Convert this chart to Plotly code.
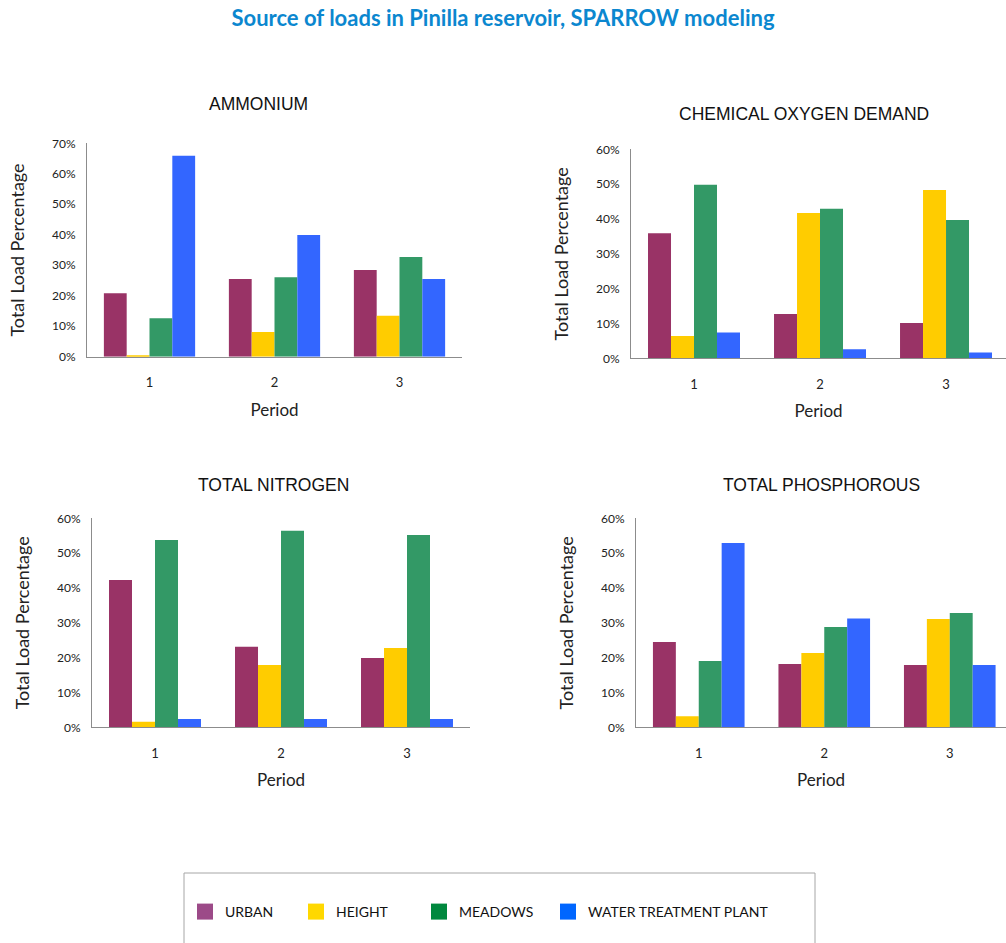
import plotly.graph_objects as go

W, H = 1006, 943

periods = ["1", "2", "3"]
series = ["URBAN", "HEIGHT", "MEADOWS", "WATER TREATMENT PLANT"]
bar_colors = ["#993366", "#FFCC00", "#339966", "#3366FF"]
legend_colors = ["#9C4A88", "#FFD800", "#00883E", "#0066FF"]

ammonium_urban = [20.8, 25.5, 28.4]
ammonium_height = [0.5, 8.1, 13.4]
ammonium_meadows = [12.6, 26.1, 32.7]
ammonium_wtp = [65.9, 39.9, 25.5]

cod_urban = [35.9, 12.7, 10.1]
cod_height = [6.4, 41.7, 48.3]
cod_meadows = [49.8, 42.9, 39.7]
cod_wtp = [7.4, 2.6, 1.7]

tn_urban = [42.3, 23.1, 19.9]
tn_height = [1.6, 17.9, 22.8]
tn_meadows = [53.8, 56.4, 55.2]
tn_wtp = [2.4, 2.4, 2.4]

tp_urban = [24.5, 18.2, 17.9]
tp_height = [3.2, 21.3, 31.1]
tp_meadows = [19.0, 28.8, 32.8]
tp_wtp = [52.9, 31.2, 17.9]

panel_titles = ["AMMONIUM", "CHEMICAL OXYGEN DEMAND", "TOTAL NITROGEN", "TOTAL PHOSPHOROUS"]
panel_data = [
    [ammonium_urban, ammonium_height, ammonium_meadows, ammonium_wtp],
    [cod_urban, cod_height, cod_meadows, cod_wtp],
    [tn_urban, tn_height, tn_meadows, tn_wtp],
    [tp_urban, tp_height, tp_meadows, tp_wtp],
]
y_max = [70, 60, 60, 60]

# layout in pixels: (x0, x1, ytop, ybottom, xrange_end)
panel_px = [
    (87, 462, 143.3, 356.7, 2.5),
    (631, 1006, 149.3, 358.3, 2.476),
    (92, 470, 518.3, 727.3, 2.5),
    (636, 1006, 518.3, 727.3, 2.448),
]
title_px = [(258, 104), (804, 114), (273, 485), (821, 485)]

FONT = "Lato, Open Sans, sans-serif"
TFONT = "Liberation Sans Narrow, Liberation Sans, Arial, sans-serif"

fig = go.Figure()

for p, vals in enumerate(panel_data):
    xa = "x" if p == 0 else f"x{p+1}"
    ya = "y" if p == 0 else f"y{p+1}"
    for s, name in enumerate(series):
        fig.add_trace(go.Bar(
            x=periods, y=vals[s], name=name,
            marker=dict(color=bar_colors[s], line=dict(width=0)),
            xaxis=xa, yaxis=ya, showlegend=False,
        ))

legend_widths = [66, 78, 84, 200]
for s, name in enumerate(series):
    fig.add_trace(go.Scatter(
        x=[None], y=[None], mode="markers", name=name,
        marker=dict(symbol="square", size=16, color=legend_colors[s]),
        showlegend=True, legendwidth=legend_widths[s],
    ))

layout = dict(
    width=W, height=H, autosize=False,
    margin=dict(l=0, r=0, t=0, b=0, pad=0, autoexpand=False),
    paper_bgcolor="white", plot_bgcolor="white",
    barmode="group", bargap=0.27, bargroupgap=0,
    font=dict(family=FONT, color="#222222"),
    title=dict(
        text="<b>Source of loads in Pinilla reservoir, SPARROW modeling</b>",
        x=503 / W, xanchor="center", y=1 - 18 / H, yanchor="middle",
        xref="paper", yref="container", automargin=False,
        font=dict(family=FONT, size=22, color="#0B87CF"),
    ),
    legend=dict(
        orientation="h", x=185 / W, xanchor="left", y=1 - 912 / H, yanchor="middle",
        font=dict(family=FONT, size=14, color="#111111"),
        bgcolor="rgba(0,0,0,0)", borderwidth=0,
    ),
    shapes=[dict(
        type="rect", xref="paper", yref="paper",
        x0=184 / W, x1=815 / W, y0=1 - 873 / H, y1=-0.02,
        line=dict(color="#A6A6A6", width=1), fillcolor="rgba(0,0,0,0)",
    )],
    annotations=[],
)

for p in range(4):
    x0, x1, yt, yb, xr = panel_px[p]
    sx = "" if p == 0 else str(p + 1)
    layout[f"xaxis{sx}"] = dict(
        domain=[x0 / W, x1 / W], anchor=f"y{sx}", automargin=False,
        type="category", range=[-0.5, xr],
        showline=True, linecolor="#8C8C8C", linewidth=1,
        showgrid=False, zeroline=False, ticks="",
        tickfont=dict(family=FONT, size=13, color="#222222"),
        ticklabelstandoff=14,
        title=dict(text="Period", font=dict(family=FONT, size=17, color="#222222"), standoff=14),
    )
    layout[f"yaxis{sx}"] = dict(
        domain=[1 - yb / H, 1 - yt / H], anchor=f"x{sx}", automargin=False,
        range=[0, y_max[p]], dtick=10, ticksuffix="%",
        showline=True, linecolor="#8C8C8C", linewidth=1,
        showgrid=False, zeroline=False, ticks="",
        tickfont=dict(family=FONT, size=12, color="#222222"),
        ticklabelstandoff=8,
        title=dict(text="Total Load Percentage", font=dict(family=FONT, size=18, color="#222222"), standoff=22),
    )
    tx, ty = title_px[p]
    layout["annotations"].append(dict(
        text=panel_titles[p], x=tx / W, y=1 - ty / H, xref="paper", yref="paper",
        xanchor="center", yanchor="middle", showarrow=False,
        font=dict(family=TFONT, size=17.5, color="#111111"),
    ))

fig.update_layout(**layout)
fig.write_html("out.html")
